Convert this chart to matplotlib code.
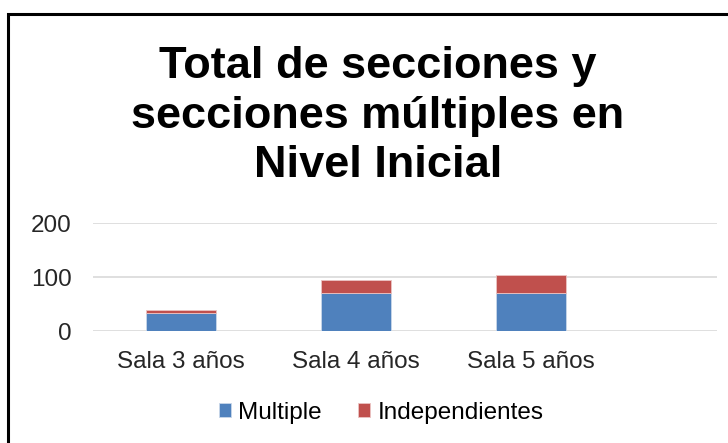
import matplotlib.pyplot as plt
from matplotlib.patches import Rectangle

categories = ['Sala 3 años', 'Sala 4 años', 'Sala 5 años']
multiple = [34, 70, 70]
independientes = [5, 24, 34]
yticks = [0, 100, 200]

plt.rcParams['font.family'] = ['Liberation Sans', 'DejaVu Sans']

fig = plt.figure(figsize=(7.28, 4.43), dpi=100)

# border of the chart area (cropped on the right and bottom)
fig.patches.append(Rectangle((8 / 728, -0.1), 1.2, 1 - 14 / 443 + 0.1,
                             transform=fig.transFigure, fill=False,
                             edgecolor='black', linewidth=2.2))

ax = fig.add_axes([93 / 728, 1 - 331 / 443, (717 - 93) / 728, (331 - 223.3) / 443])
x = range(len(categories))
ax.bar(x, multiple, width=0.4, color='#4F81BD', edgecolor='#C9D7EA',
       linewidth=0.6, label='Multiple', zorder=3)
ax.bar(x, independientes, width=0.4, bottom=multiple, color='#C0504D',
       edgecolor='#EBC4C3', linewidth=0.6, label='Independientes', zorder=3)

ax.set_xlim(-0.503, 3.063)
ax.set_ylim(0, 200)
ax.set_yticks(yticks)
ax.set_xticks(list(x))
ax.set_xticklabels(categories)
ax.tick_params(axis='both', length=0, labelsize=17.5, colors='#262626')
ax.tick_params(axis='y', pad=15.5)
ax.tick_params(axis='x', pad=14.5)
ax.grid(axis='y', color='#D9D9D9', linewidth=1.2, zorder=0)
for s in ax.spines.values():
    s.set_visible(False)

fig.text(378 / 728, 1 - 46 / 443,
         'Total de secciones y\nsecciones múltiples en\nNivel Inicial',
         ha='center', va='top', fontsize=32.5, fontweight='bold',
         linespacing=1.27)

fig.legend(loc='center', bbox_to_anchor=(381 / 728, 1 - 413 / 443), ncol=2,
           frameon=False, fontsize=17.5, handlelength=0.5, handleheight=0.5,
           handletextpad=0.3, columnspacing=1.5)

fig.savefig('out.png', dpi=100)
